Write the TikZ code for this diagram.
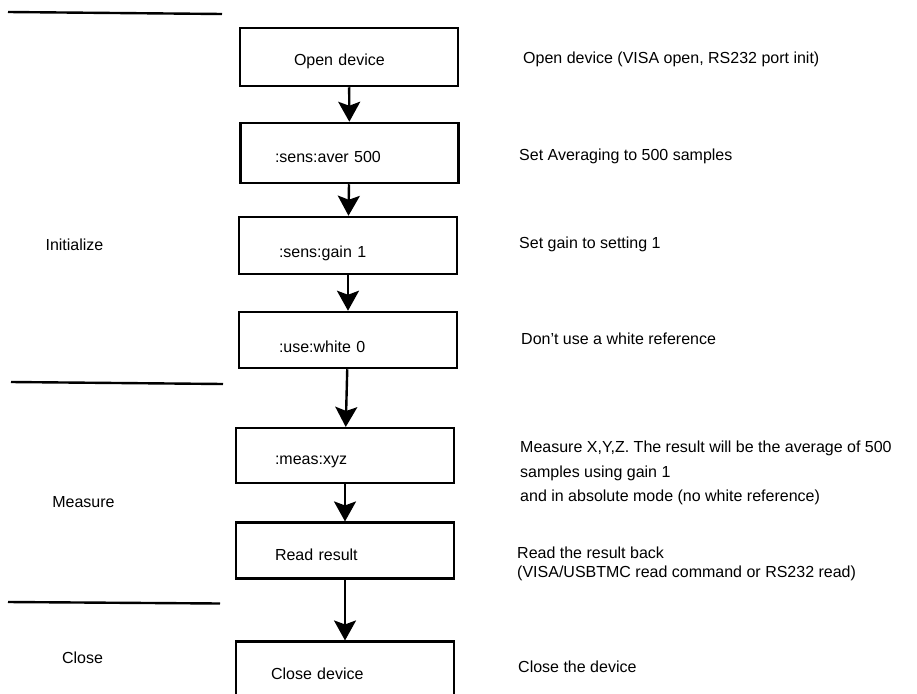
\documentclass[tikz,border=0pt]{standalone}
\usepackage{fontspec}
\setmainfont{Liberation Sans}
\usetikzlibrary{arrows.meta}
\begin{document}
\begin{tikzpicture}[x=1pt,y=-1pt,
  every node/.style={font=\fontsize{16}{19}\selectfont},
  box/.style={draw, line width=2.5pt, rectangle, minimum width=218pt, inner ysep=0pt, align=left, text depth=0pt},
  arr/.style={-{Stealth[length=20pt,width=22pt,inset=4pt]}, line width=2.4pt},
  sep/.style={line width=2.4pt},
  txt/.style={inner sep=0pt, anchor=base west, align=left},
  sect/.style={inner sep=0pt, anchor=base}]
\useasboundingbox (0,0) rectangle (917,693);
\clip (0,0) rectangle (917,693);

% flow boxes
\node[box, minimum height=58pt, inner xsep=54pt, text width=110pt, text height=17pt] (b1) at (349,57) {Open device};
\node[box, minimum height=60pt, inner xsep=34.5pt, text width=149pt, text height=19pt] (b2) at (349.5,153) {:sens:aver 500};
\node[box, minimum height=57pt, inner xsep=40pt, text width=138pt, text height=24pt] (b3) at (348,245.5) {:sens:gain 1};
\node[box, minimum height=56pt, inner xsep=40pt, text width=138pt, text height=25pt] (b4) at (348,340) {:use:white 0};
\node[box, minimum height=55pt, inner xsep=39pt, text width=140pt, text height=17.5pt] (b5) at (345,455.7) {:meas:xyz};
\node[box, minimum height=55.6pt, inner xsep=39pt, text width=140pt, text height=20.5pt] (b6) at (345,550.5) {Read result};
\node[box, minimum height=56pt, inner xsep=35pt, text width=148pt, text height=19.5pt] (b7) at (345,669.7) {Close device};

% connectors
\draw[arr] (b1) -- (b2);
\draw[arr] (b2) -- (b3);
\draw[arr] (b3) -- (b4);
\draw[arr] (b4) -- (b5);
\draw[arr] (b5) -- (b6);
\draw[arr] (b6) -- (b7);

% section separators
\draw[sep] (8,12) -- (222,14);
\draw[sep] (11,382) -- (223,384);
\draw[sep] (8,602) -- (220,603.5);

% section labels
\node[sect] (sInit) at (74.5,250.7) {Initialize};
\node[sect] (sMeas) at (83.5,507.7) {Measure};
\node[sect] (sClose) at (82.5,663.7) {Close};

% descriptions
\node[txt] (d1) at (523,63.7) {Open device (VISA open, RS232 port init)};
\node[txt] (d2) at (519,160.7) {Set Averaging to 500 samples};
\node[txt] (d3) at (519,248.7) {Set gain to setting 1};
\node[txt] (d4) at (521,344.7) {Don't use a white reference};
\node[txt, font=\fontsize{16}{24.5}\selectfont] (d5) at (520,501.7) {Measure X,Y,Z. The result will be the average of 500\\samples using gain 1\\and in absolute mode (no white reference)};
\node[txt, font=\fontsize{16}{19.2}\selectfont] (d6) at (517,577.5) {Read the result back\\(VISA/USBTMC read command or RS232 read)};
\node[txt] (d7) at (518,672.7) {Close the device};
\end{tikzpicture}
\end{document}
